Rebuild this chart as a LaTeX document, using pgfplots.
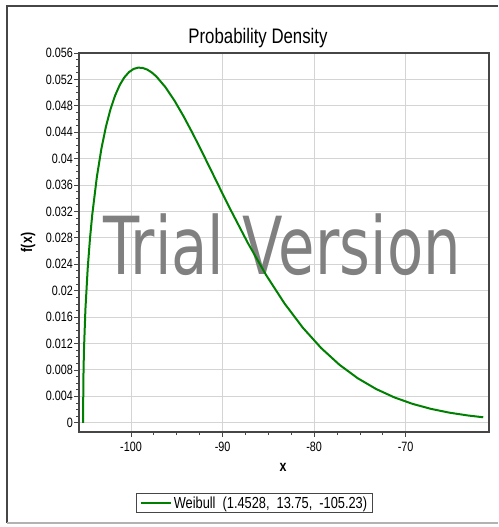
\documentclass[border=0pt]{standalone}
\usepackage{fontspec}
\setmainfont{Liberation Sans}[FakeStretch=0.8]
\newfontfamily\wmfont{DejaVu Sans}[FakeStretch=0.74]
\usepackage{pgfplots}
\pgfplotsset{compat=1.18}
\definecolor{curvegreen}{RGB}{0,128,0}
\definecolor{framegray}{RGB}{70,70,70}
\definecolor{gridgray}{RGB}{212,212,212}
\definecolor{wmgray}{RGB}{128,128,128}

\begin{document}
\begin{tikzpicture}[x=1pt,y=1pt]
\useasboundingbox (0,0) rectangle (498,527);
% outer frame
\draw[framegray, line width=2pt] (7,4) -- (7,521) -- (498,521);
\draw[black!30, line width=1.2pt] (7,4) -- (498,4);
\node[font=\fontsize{21}{24}\selectfont, anchor=base] at (258,483) {Probability Density};

\begin{axis}[
  at={(79pt,95pt)}, anchor=south west,
  scale only axis, width=410pt, height=379pt,
  xmin=-105.68, xmax=-60.9, ymin=-0.0014, ymax=0.056,
  xtick={-100,-90,-80,-70},
  ytick={0,0.004,0.008,0.012,0.016,0.02,0.024,0.028,0.032,0.036,0.04,0.044,0.048,0.052,0.056},
  minor x tick num=3, minor y tick num=3,
  scaled y ticks=false,
  yticklabel style={/pgf/number format/fixed, /pgf/number format/precision=3, inner sep=1pt},
  xticklabel style={yshift=-2pt},
  /pgf/number format/assume math mode=true,
  tick align=outside, tick pos=left,
  major tick length=5pt, minor tick length=3pt,
  every tick/.style={framegray, line width=0.8pt},
  grid=major, major grid style={gridgray, line width=1pt},
  axis line style={framegray, line width=1.6pt},
  tick label style={font=\fontsize{13.5}{15}\selectfont},
  xlabel={x}, ylabel={f(x)},
  label style={font=\bfseries\fontsize{15.5}{17}\selectfont},
  xlabel style={at={(axis description cs:0.4976,-0.094)}, anchor=center},
  ylabel style={at={(axis description cs:-0.124,0.5)}, anchor=center},
  legend style={at={(axis description cs:0.428,-0.188)}, anchor=center,
    draw=framegray, line width=1pt, font=\fontsize{16}{18}\selectfont,
    inner xsep=3pt, inner ysep=1pt},
  legend image code/.code={\draw[#1] (0pt,0pt) -- (30pt,0pt);},
]
\node[font=\wmfont\fontsize{80}{90}\selectfont, text=wmgray] at (rel axis cs:0.495,0.495) {Trial Version};

\addplot[curvegreen, line width=2pt] coordinates {
(-105.23,0) (-105.21,0.005485) (-105.18,0.008303) (-105.13,0.011360)
(-104.98,0.017165) (-104.73,0.023368) (-104.48,0.027899) (-104.23,0.031540)
(-103.73,0.037226) (-103.23,0.041533) (-102.73,0.044895) (-102.23,0.047530)
(-101.73,0.049584) (-101.23,0.051148) (-100.73,0.052303) (-100.23,0.053094)
(-99.73,0.053580) (-99.23,0.053780) (-98.73,0.053741) (-98.23,0.053487)
(-97.73,0.053050) (-97.23,0.052443) (-96.23,0.050809) (-95.23,0.048738)
(-94.23,0.046342) (-93.23,0.043728) (-92.23,0.040978) (-91.23,0.038162)
(-90.23,0.035335) (-89.23,0.032541) (-87.23,0.027201) (-85.23,0.022338)
(-83.23,0.018058) (-81.23,0.014388) (-79.23,0.011311) (-77.23,0.008778)
(-75.23,0.006735) (-73.23,0.005110) (-71.23,0.003837) (-69.23,0.002851)
(-67.23,0.002099) (-65.23,0.001530) (-63.23,0.001107) (-61.53,0.000830)
};
\addlegendentry{Weibull\ \ (1.4528,\ \ 13.75,\ \ -105.23)}
\end{axis}
\end{tikzpicture}
\end{document}
